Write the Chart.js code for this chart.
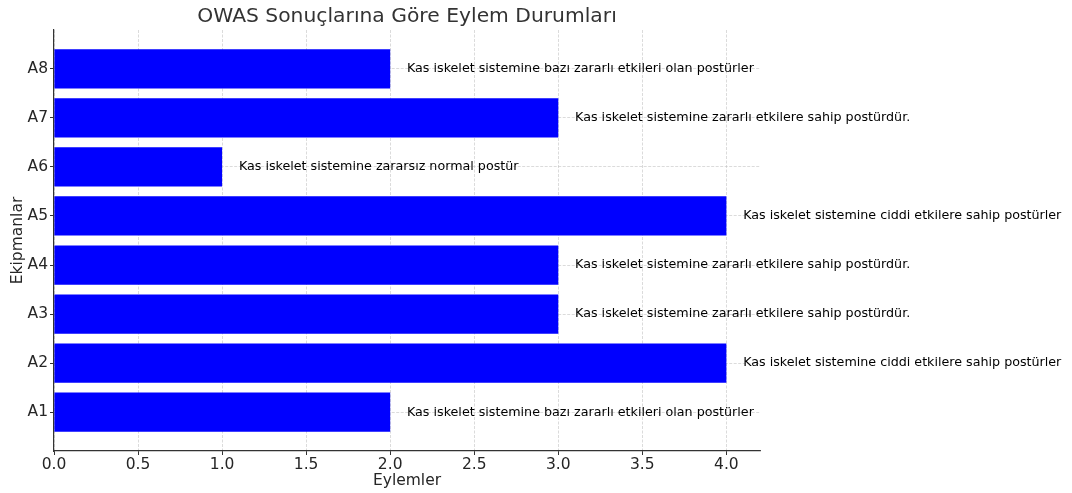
<!DOCTYPE html>
<html>
<head>
<meta charset="utf-8">
<title>OWAS Sonuçlarına Göre Eylem Durumları</title>
<script src="https://cdn.jsdelivr.net/npm/chart.js@4"></script>
<style>
  html, body { margin: 0; padding: 0; background: #fff; }
  canvas { display: block; }
</style>
</head>
<body>
<canvas id="myChart" width="1072" height="493"></canvas>
<script>
var ekipmanlar = ['A1', 'A2', 'A3', 'A4', 'A5', 'A6', 'A7', 'A8'];
var eylemler = [2, 4, 3, 3, 4, 1, 3, 2];
var aciklamalar = [
    'Kas iskelet sistemine bazı zararlı etkileri olan postürler',
    'Kas iskelet sistemine ciddi etkilere sahip postürler',
    'Kas iskelet sistemine zararlı etkilere sahip postürdür.',
    'Kas iskelet sistemine zararlı etkilere sahip postürdür.',
    'Kas iskelet sistemine ciddi etkilere sahip postürler',
    'Kas iskelet sistemine zararsız normal postür',
    'Kas iskelet sistemine zararlı etkilere sahip postürdür.',
    'Kas iskelet sistemine bazı zararlı etkileri olan postürler'
];
var xTicks = [0, 0.5, 1, 1.5, 2, 2.5, 3, 3.5, 4];

var FONT = 'DejaVu Sans';
var gridColor = 'rgba(190,190,190,0.7)';
var axisColor = '#333333';

// writes the description to the right of each bar
var barText = {
    id: 'barText',
    afterDatasetsDraw: function(chart) {
        var ctx = chart.ctx;
        var xs = chart.scales.x, ys = chart.scales.y;
        ctx.save();
        ctx.font = '12.7px "' + FONT + '"';
        ctx.fillStyle = '#000';
        ctx.textAlign = 'left';
        ctx.textBaseline = 'middle';
        eylemler.forEach(function(v, i) {
            ctx.fillText(aciklamalar[i], xs.getPixelForValue(v + 0.1), ys.getPixelForValue(i));
        });
        ctx.restore();
    }
};

var ctx = document.getElementById('myChart').getContext('2d');

var chart = new Chart(ctx, {
    type: 'bar',
    data: {
        datasets: [{
            data: eylemler.map(function(v, i) { return {x: v, y: i}; }),
            backgroundColor: '#0000ff',
            borderWidth: 0,
            categoryPercentage: 1,
            barPercentage: 0.8
        }]
    },
    options: {
        indexAxis: 'y',
        responsive: false,
        animation: false,
        devicePixelRatio: 1,
        layout: { padding: { left: 0, right: 312, top: 0, bottom: 0 } },
        plugins: {
            legend: { display: false },
            tooltip: { enabled: false },
            title: {
                display: true,
                text: 'OWAS Sonuçlarına Göre Eylem Durumları',
                fullSize: false,
                color: '#333333',
                font: { family: FONT, size: 20.3, weight: 'normal', lineHeight: '26px' },
                padding: { top: 4, bottom: 0 }
            }
        },
        scales: {
            x: {
                type: 'linear',
                min: 0,
                max: 4.2,
                z: 1,
                afterBuildTicks: function(s) {
                    s.ticks = xTicks.map(function(v) { return {value: v}; });
                },
                afterFit: function(s) { s.height = 42; },
                ticks: {
                    color: '#262626',
                    padding: 1,
                    font: { family: FONT, size: 15.5 },
                    callback: function(v) { return Number(v).toFixed(1); }
                },
                grid: {
                    color: gridColor,
                    lineWidth: 0.8,
                    tickColor: axisColor,
                    tickLength: 4,
                    tickWidth: 1
                },
                border: { color: axisColor, width: 1.2, dash: [3, 1.5] },
                title: {
                    display: true,
                    text: 'Eylemler',
                    color: '#262626',
                    font: { family: FONT, size: 15.5 },
                    padding: { top: 0, bottom: 3 }
                }
            },
            y: {
                type: 'linear',
                min: -0.79,
                max: 7.79,
                offset: false,
                z: 1,
                afterBuildTicks: function(s) {
                    s.ticks = ekipmanlar.map(function(_, i) { return {value: i}; });
                },
                afterFit: function(s) { s.width = 54; },
                ticks: {
                    color: '#262626',
                    padding: 2,
                    font: { family: FONT, size: 15.5 },
                    callback: function(v) { return ekipmanlar[v]; }
                },
                grid: {
                    offset: false,
                    color: gridColor,
                    lineWidth: 0.8,
                    tickColor: axisColor,
                    tickLength: 4,
                    tickWidth: 1
                },
                border: { color: axisColor, width: 1.2, dash: [3, 1.5] },
                title: {
                    display: true,
                    text: 'Ekipmanlar',
                    color: '#262626',
                    font: { family: FONT, size: 15.5 },
                    padding: { top: 9, bottom: 0 }
                }
            }
        }
    },
    plugins: [barText]
});
</script>
</body>
</html>
